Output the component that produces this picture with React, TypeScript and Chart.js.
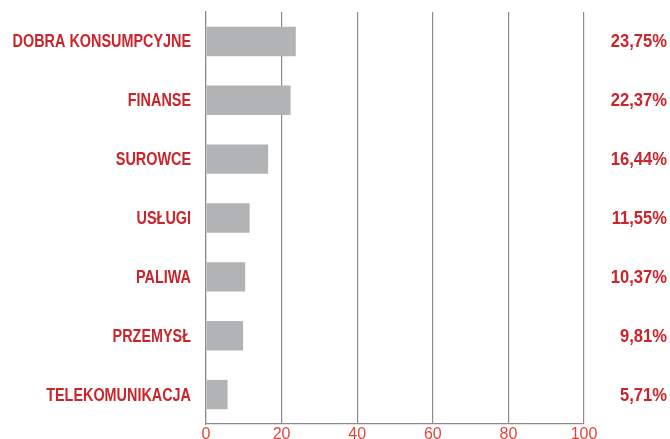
import React, { useEffect, useRef } from "react";
import { Chart, registerables } from "chart.js";

Chart.register(...registerables);

const categories = [
  "DOBRA KONSUMPCYJNE",
  "FINANSE",
  "SUROWCE",
  "USŁUGI",
  "PALIWA",
  "PRZEMYSŁ",
  "TELEKOMUNIKACJA",
];
const values = [23.75, 22.37, 16.44, 11.55, 10.37, 9.81, 5.71];
const valueLabels = ["23,75%", "22,37%", "16,44%", "11,55%", "10,37%", "9,81%", "5,71%"];
const xTicks = [0, 20, 40, 60, 80, 100];

const RED = "#c9252b";
const LABEL_FONT = "bold 18px 'Liberation Sans', Arial, sans-serif";

const sideLabels = {
  id: "sideLabels",
  afterDraw(chart: any) {
    const ctx = chart.ctx;
    const y = chart.scales.y;
    const area = chart.chartArea;
    ctx.save();
    ctx.fillStyle = RED;
    ctx.font = LABEL_FONT;
    ctx.textAlign = "right";
    ctx.textBaseline = "middle";
    categories.forEach((c, i) => {
      const py = y.getPixelForValue(i) + 1;
      ctx.save();
      ctx.translate(area.left - 15, py);
      ctx.scale(0.8, 1);
      ctx.fillText(c, 0, 0);
      ctx.restore();
      ctx.save();
      ctx.translate(chart.width - 3, py);
      ctx.scale(0.92, 1);
      ctx.fillText(valueLabels[i], 0, 0);
      ctx.restore();
    });
    ctx.restore();
  },
};

export default function App() {
  const ref = useRef<HTMLCanvasElement>(null);
  useEffect(() => {
    document.body.style.margin = "0";
    const chart = new Chart(ref.current!, {
      type: "bar",
      data: {
        labels: categories,
        datasets: [
          {
            data: values,
            backgroundColor: "#b1b3b5",
            barPercentage: 0.5,
            categoryPercentage: 1,
          },
        ],
      },
      options: {
        indexAxis: "y",
        responsive: false,
        animation: false,
        layout: { padding: { top: 12, right: 86, left: 0, bottom: 0 } },
        plugins: { legend: { display: false }, tooltip: { enabled: false } },
        scales: {
          x: {
            min: 0,
            max: 100,
            afterBuildTicks: (s: any) => {
              s.ticks = xTicks.map((v) => ({ value: v }));
            },
            afterFit: (s: any) => {
              s.height = 15;
              s.paddingLeft = 0;
              s.paddingRight = 0;
            },
            grid: { color: "#8c8c8c", lineWidth: 1.2, drawTicks: false },
            border: { display: true, color: "#8c8c8c", width: 1.2 },
            ticks: {
              color: "#e0473c",
              padding: 1,
              font: { family: "'Liberation Sans', 'Roboto', sans-serif", size: 16 },
            },
          },
          y: {
            position: "left",
            afterFit: (s: any) => {
              s.width = 206;
              s.paddingTop = 0;
              s.paddingBottom = 0;
            },
            grid: { display: false, drawTicks: false },
            border: { display: true, color: "#8c8c8c", width: 1.2 },
            ticks: { display: false },
          },
        },
      } as any,
      plugins: [sideLabels],
    });
    return () => chart.destroy();
  }, []);
  return <canvas ref={ref} width={670} height={439} style={{ display: "block" }} />;
}
